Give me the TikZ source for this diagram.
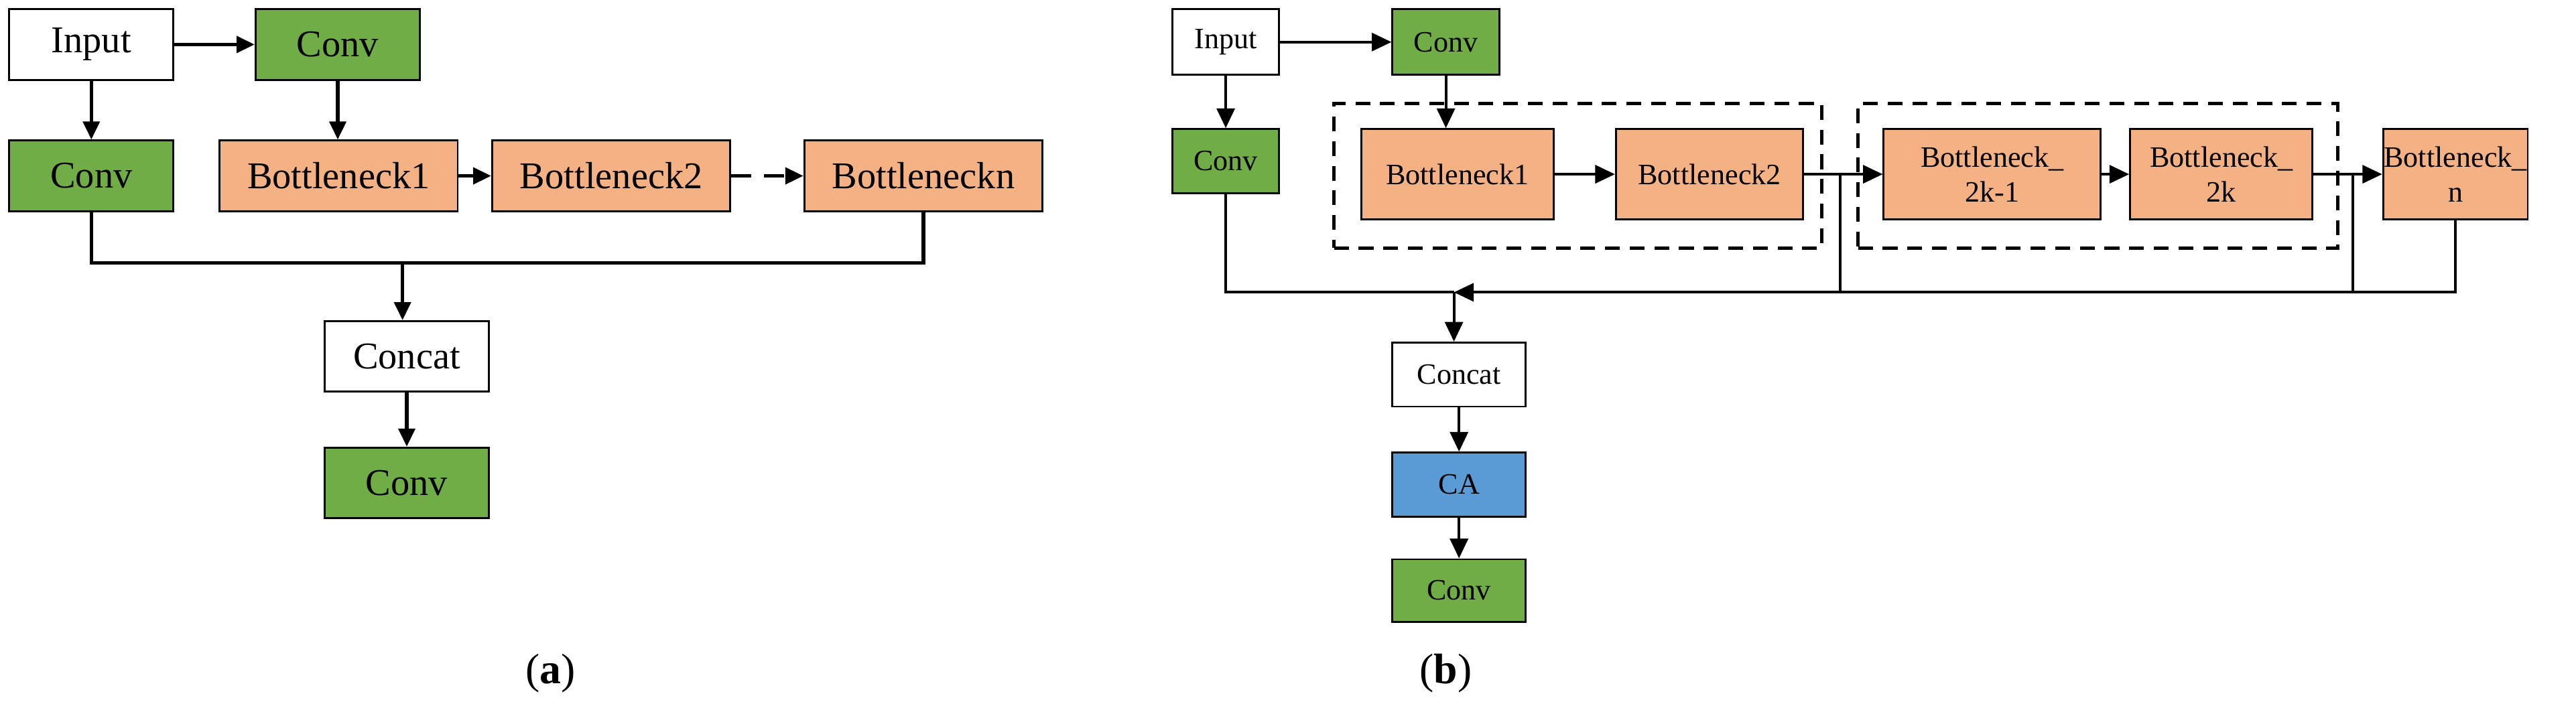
\documentclass[tikz,border=0pt]{standalone}
\usepackage{fontspec}
\setmainfont{Liberation Serif}
\usetikzlibrary{arrows.meta}
\definecolor{gr}{HTML}{70AD47}
\definecolor{og}{HTML}{F4B183}
\definecolor{bl}{HTML}{5B9BD5}
\begin{document}
\begin{tikzpicture}[x=1pt,y=-1pt,
 bx/.style={draw=black,line width=1.2pt,inner sep=0pt,anchor=north west},
 A/.style={font=\fontsize{23}{25}\selectfont},
 B/.style={font=\fontsize{18}{21}\selectfont,align=center},
 ar/.style={line width=2.2pt,-{Triangle[length=11pt,width=10pt]}},
 br/.style={line width=1.6pt,-{Triangle[length=12pt,width=11pt]}},
 ln/.style={line width=2.2pt},
 bln/.style={line width=1.6pt},
 db/.style={draw=black,line width=2pt,dash pattern=on 9pt off 6pt}]
\useasboundingbox (0,0) rectangle (1568,432);
% panel a
\node[bx,A,minimum width=100pt,minimum height=43pt,fill=white] (ai) at (5,5) {Input};
\node[bx,A,minimum width=100pt,minimum height=43pt,fill=gr] (ac1) at (155,5) {Conv};
\node[bx,A,minimum width=100pt,minimum height=43pt,fill=gr] (ac2) at (5,85) {Conv};
\node[bx,A,minimum width=145pt,minimum height=43pt,fill=og] (ab1) at (133,85) {Bottleneck1};
\node[bx,A,minimum width=145pt,minimum height=43pt,fill=og] (ab2) at (299,85) {Bottleneck2};
\node[bx,A,minimum width=145pt,minimum height=43pt,fill=og] (abn) at (489,85) {Bottleneckn};
\node[bx,A,minimum width=100pt,minimum height=43pt,fill=white] (acat) at (197,195) {Concat};
\node[bx,A,minimum width=100pt,minimum height=43pt,fill=gr] (ac3) at (197,272) {Conv};
\coordinate (aj) at (245,160);
\draw[ar] (ai) -- (ac1);
\draw[ar] (ai) -- (ac2);
\draw[ar] (ac1) -- (ac1|-ab1.north);
\draw[ar] (ab1) -- (ab2);
\draw[ar,dash pattern=on 12pt off 8pt] (ab2) -- (abn);
\draw[ln] (ac2.south) |- (aj);
\draw[ln] (abn.south) |- (aj);
\draw[ar] (aj) -- (aj|-acat.north);
\draw[ar] (acat) -- (ac3);
\node[font=\fontsize{26}{28}\selectfont] (la) at (335,410) {(\textbf{a})};
% panel b
\node[bx,B,minimum width=65pt,minimum height=40pt,fill=white] (bi) at (713,5) {Input};
\node[bx,B,minimum width=65pt,minimum height=40pt,fill=gr] (bc1) at (847,5) {Conv};
\node[bx,B,minimum width=65pt,minimum height=39pt,fill=gr] (bc2) at (713,78) {Conv};
\node[bx,B,minimum width=117pt,minimum height=55pt,fill=og] (bb1) at (828,78) {Bottleneck1};
\node[bx,B,minimum width=114pt,minimum height=55pt,fill=og] (bb2) at (983,78) {Bottleneck2};
\node[bx,B,minimum width=132pt,minimum height=55pt,fill=og] (bb3) at (1146,78) {Bottleneck\_\\2k-1};
\node[bx,B,minimum width=111pt,minimum height=55pt,fill=og] (bb4) at (1296,78) {Bottleneck\_\\2k};
\node[bx,B,minimum width=88pt,minimum height=55pt,fill=og] (bbn) at (1450,78) {Bottleneck\_\\n};
\node[bx,B,minimum width=81pt,minimum height=39pt,fill=white] (bcat) at (847,208) {Concat};
\node[bx,B,minimum width=81pt,minimum height=39pt,fill=bl] (bca) at (847,275) {CA};
\node[bx,B,minimum width=81pt,minimum height=38pt,fill=gr] (bc3) at (847,340) {Conv};
\node[db,minimum width=297pt,minimum height=88pt,inner sep=0pt,anchor=north west] (box1) at (811,62) {};
\node[db,minimum width=292pt,minimum height=88pt,inner sep=0pt,anchor=north west] (box2) at (1130,62) {};
\coordinate (bj) at (885,178);
\coordinate (s1) at (1120,178);
\coordinate (s2) at (1432,178);
\draw[br] (bi) -- (bc1);
\draw[br] (bi) -- (bc2);
\draw[br] (bc1.south) -- (bc1.south|-bb1.north);
\draw[br] (bb1) -- (bb2);
\draw[br] (bb2) -- (bb3);
\draw[br] (bb3) -- (bb4);
\draw[br] (bb4) -- (bbn);
\draw[bln] (s1|-bb2.east) -- (s1);
\draw[bln] (s2|-bb4.east) -- (s2);
\draw[bln] (bc2.south) |- (bj);
\draw[br] (bbn.south) |- (bj);
\draw[br] (bj) -- (bj|-bcat.north);
\draw[br] (bcat) -- (bca);
\draw[br] (bca) -- (bc3);
\node[font=\fontsize{26}{28}\selectfont] (lb) at (880,410) {(\textbf{b})};
\end{tikzpicture}
\end{document}
